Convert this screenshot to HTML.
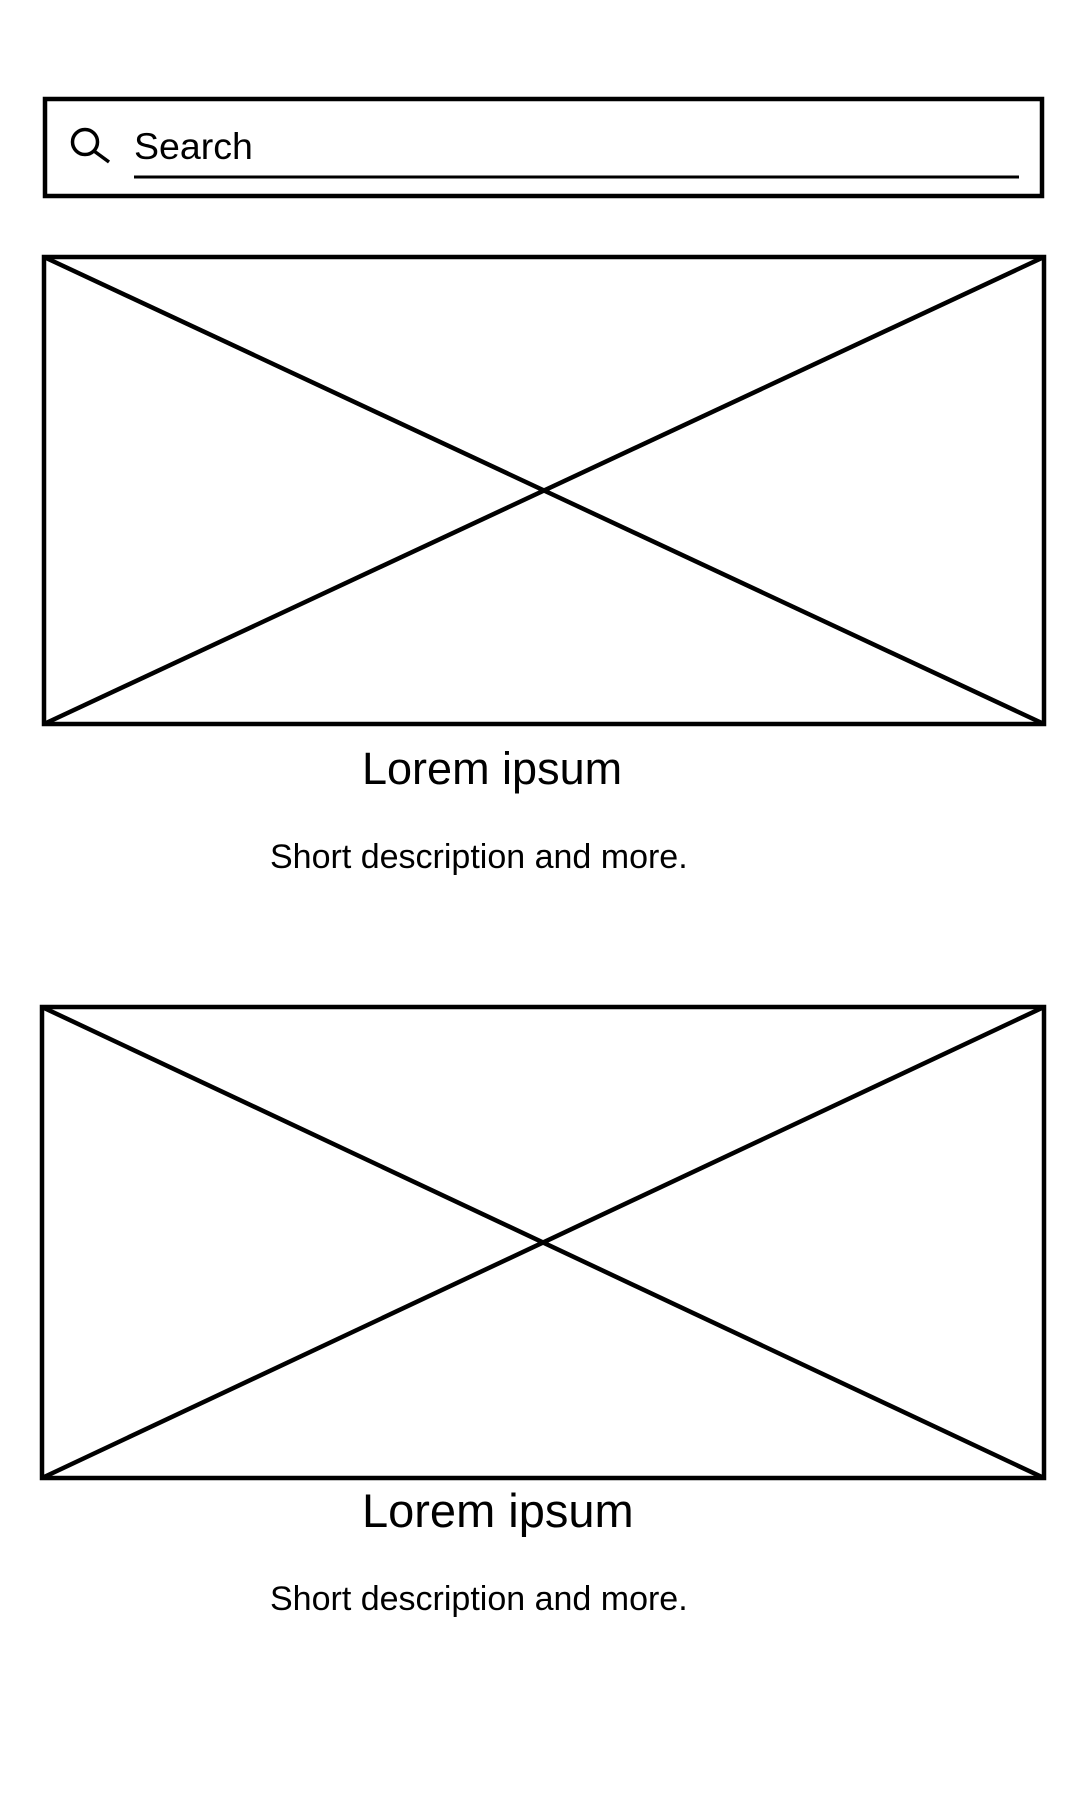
<!DOCTYPE html>
<html><head><meta charset="utf-8"><style>
html,body{margin:0;padding:0;background:#fff;}
body{width:1080px;height:1800px;position:relative;overflow:hidden;font-family:"Liberation Sans",Arial,sans-serif;}
svg{position:absolute;left:0;top:0;}
</style></head><body>
<svg width="1080" height="1800" viewBox="0 0 1080 1800">
<g fill="none" stroke="#000" stroke-width="4.5">
  <rect x="45" y="99" width="997" height="97"/>
  <g stroke-width="3.5">
    <circle cx="85" cy="142" r="12.5"/>
    <line x1="94" y1="151" x2="109" y2="162"/>
  </g>
  <line x1="134" y1="177" x2="1019" y2="177" stroke-width="3"/>
</g>
<text x="134" y="159" font-size="37.5" font-family="Liberation Sans, Arial, sans-serif" fill="#000">Search</text>

<g fill="none" stroke="#000" stroke-width="4.5">
  <rect x="44" y="257" width="1000" height="467"/>
  <line x1="44" y1="257" x2="1044" y2="724"/>
  <line x1="1044" y1="257" x2="44" y2="724"/>
</g>
<text x="362" y="784" font-size="45" fill="#000">Lorem ipsum</text>
<text x="270" y="868" font-size="34" fill="#000">Short description and more.</text>

<g fill="none" stroke="#000" stroke-width="4.5">
  <rect x="42" y="1007" width="1002" height="471"/>
  <line x1="42" y1="1007" x2="1044" y2="1478"/>
  <line x1="1044" y1="1007" x2="42" y2="1478"/>
</g>
<text x="362" y="1527" font-size="47" fill="#000">Lorem ipsum</text>
<text x="270" y="1610" font-size="34" fill="#000">Short description and more.</text>
</svg>
</body></html>
